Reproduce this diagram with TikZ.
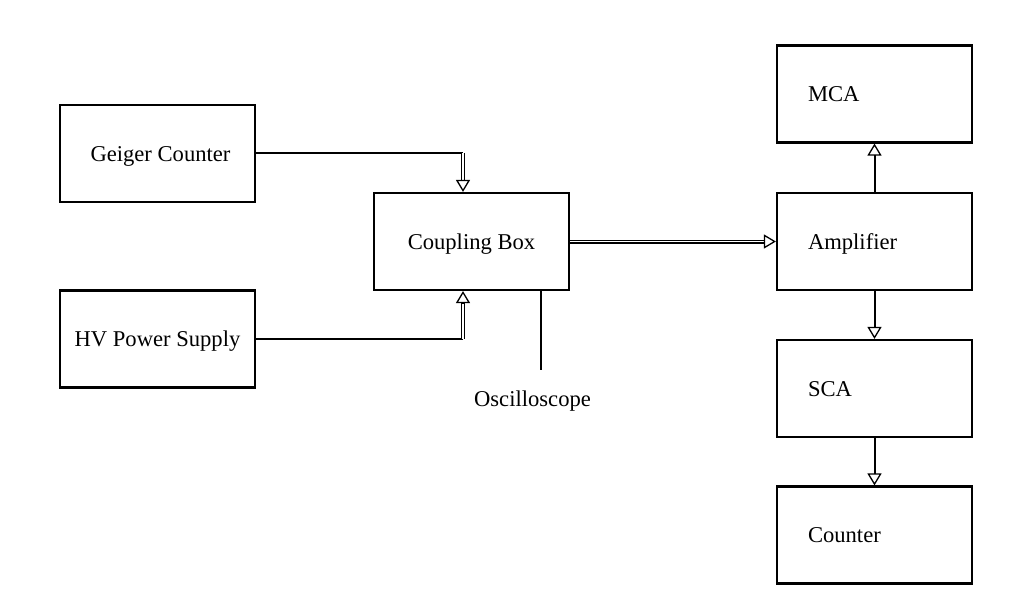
\documentclass[tikz,border=0pt]{standalone}
\usepackage{fontspec}
\setmainfont{Liberation Serif}
\usetikzlibrary{arrows.meta,calc}
\tikzset{
  box/.style={draw, line width=2.2, minimum width=195, minimum height=97, inner sep=0,
    font=\fontsize{22.6}{27}\selectfont, text height=15.2, text depth=0},
  lbox/.style={box, align=left, text width=133, inner xsep=31},
  conn/.style={line width=2},
  dbl/.style={double, double distance=1.6, line width=1.2},
  opentip/.style={line width=1.3, -{Triangle[open,length=12,width=14]}},
  sarrow/.style={line width=2, -{Triangle[open,length=12,width=14,line width=1.3]}},
  lbl/.style={font=\fontsize{22.6}{27}\selectfont, inner sep=0}
}
\begin{document}
\begin{tikzpicture}[x=1pt,y=-1pt]
\useasboundingbox (0,0) rectangle (1013,607);
\node[box] (g) at (157.5,153.5) {\hspace*{6pt}Geiger Counter};
\node[box] (hv) at (157.5,339) {HV Power Supply};
\node[box] (cb) at (471.5,241.5) {Coupling Box};
\node[lbox] (mca) at (874.5,94) {MCA};
\node[lbox] (amp) at (874.5,241.5) {Amplifier};
\node[lbox] (sca) at (874.5,388.5) {SCA};
\node[lbox] (cnt) at (874.5,535) {Counter};
\node[lbl, anchor=base] (osc) at (532.5,406) {Oscilloscope};

\coordinate (c1) at (463,153.5);
\coordinate (c2) at (463,339);
\coordinate (oe) at (541,370);

% Geiger -> Coupling
\draw[conn] (g.east) -- (c1);
\draw[dbl] (c1) -- ($(c1 |- cb.north)+(0,-12)$);
\draw[opentip] ($(c1 |- cb.north)+(0,-12)$) -- (c1 |- cb.north);
% HV -> Coupling
\draw[conn] (hv.east) -- (c2);
\draw[dbl] (c2) -- ($(c2 |- cb.south)+(0,12)$);
\draw[opentip] ($(c2 |- cb.south)+(0,12)$) -- (c2 |- cb.south);
% Coupling -> Amplifier
\draw[dbl] (cb.east) -- ($(amp.west)+(-12,0)$);
\draw[opentip] ($(amp.west)+(-12,0)$) -- (amp.west);
% Oscilloscope
\draw[conn] (cb.south -| oe) -- (oe);
% Amplifier chain
\draw[sarrow] (amp.north) -- (mca.south);
\draw[sarrow] (amp.south) -- (sca.north);
\draw[sarrow] (sca.south) -- (cnt.north);
\end{tikzpicture}
\end{document}
